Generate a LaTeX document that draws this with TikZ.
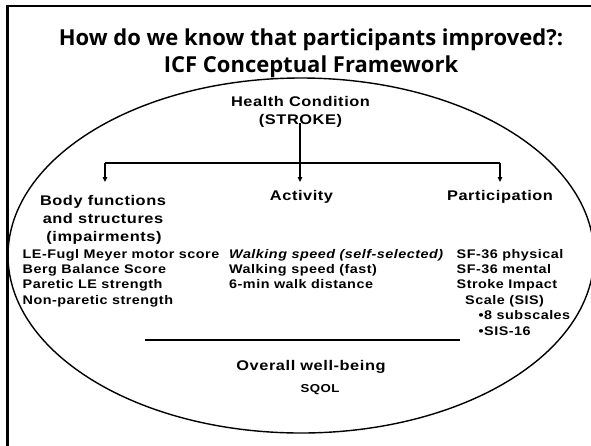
\documentclass[tikz,border=0pt]{standalone}
\usepackage{fontspec}
\usetikzlibrary{arrows.meta}
\newfontfamily\arialhd{Liberation Sans}[LetterSpace=4,FakeStretch=1.17]
\newfontfamily\arialms{Liberation Sans}[LetterSpace=4,FakeStretch=1.15]
\newfontfamily\titlefnt{Open Sans}
\begin{document}
\begin{tikzpicture}[x=1pt,y=-1pt,
  headtxt/.style={inner sep=0pt,anchor=base,font=\arialhd\bfseries\fontsize{14}{17}\selectfont},
  meastxt/.style={inner sep=0pt,anchor=base west,font=\arialms\bfseries\fontsize{12.5}{15}\selectfont},
  titletxt/.style={inner sep=0pt,anchor=base,font=\titlefnt\bfseries\fontsize{22}{26}\selectfont},
  conn/.style={line width=1.3pt},
  arr/.style={line width=1.3pt,-{Triangle[length=5pt,width=4.5pt]}}]
\useasboundingbox (0,0) rectangle (591,445);
\fill[white] (0,0) rectangle (591,445);
% frame
\draw[line width=2.5pt] (7.5,452) -- (7.5,6) -- (598,6);
% ellipse
\draw[line width=1.4pt] (301,255.5) ellipse [x radius=293, y radius=177.5];
% title
\node[titletxt] (t1) at (311,45) {How do we know that participants improved?:};
\node[titletxt] (t2) at (311,72) {ICF Conceptual Framework};
% health condition
\node[headtxt] (hc) at (300.5,106) {Health Condition};
\node[headtxt] (stroke) at (300.5,124) {(STROKE)};
% headings
\node[headtxt] (bf1) at (103,205) {Body functions};
\node[headtxt] (bf2) at (103,223) {and structures};
\node[headtxt] (bf3) at (104,241) {(impairments)};
\node[headtxt] (act) at (301.5,200) {Activity};
\node[headtxt] (par) at (500,200) {Participation};
% connectors
\coordinate (s0) at (300,123);
\coordinate (j) at (300,163);
\coordinate (jL) at (105,163);
\coordinate (jR) at (500,163);
\coordinate (tL) at (105,182);
\coordinate (tM) at (300,182);
\coordinate (tR) at (500,182);
\draw[conn] (s0) -- (j);
\draw[conn] (jL) -- (jR);
\draw[arr] (jL) -- (tL);
\draw[arr] (j) -- (tM);
\draw[arr] (jR) -- (tR);
% measures left
\node[meastxt] (m1) at (22.5,258) {LE-Fugl Meyer motor score};
\node[meastxt] (m2) at (22.5,273.4) {Berg Balance Score};
\node[meastxt] (m3) at (22.5,288.8) {Paretic LE strength};
\node[meastxt] (m4) at (22.5,304.2) {Non-paretic strength};
% measures middle
\node[meastxt] (a1) at (229,258) {\itshape Walking speed (self-selected)};
\node[meastxt] (a2) at (229,273.4) {Walking speed (fast)};
\node[meastxt] (a3) at (229,288.8) {6-min walk distance};
% measures right
\node[meastxt] (p1) at (456.5,258) {SF-36 physical};
\node[meastxt] (p2) at (456.5,273.4) {SF-36 mental};
\node[meastxt] (p3) at (456.5,288.8) {Stroke Impact};
\node[meastxt] (p4) at (465,304.2) {Scale (SIS)};
\node[meastxt] (p5) at (478.5,319.6) {•8 subscales};
\node[meastxt] (p6) at (478.5,335) {•SIS-16};
% bottom bar
\coordinate (bL) at (145,340);
\coordinate (bR) at (460,340);
\draw[line width=2.8pt] (bL) -- (bR);
\node[headtxt] (ow) at (311,370) {Overall well-being};
\node[inner sep=0pt,anchor=base,font=\arialms\bfseries\fontsize{11.5}{14}\selectfont] (sq) at (320,392) {SQOL};
\end{tikzpicture}
\end{document}
